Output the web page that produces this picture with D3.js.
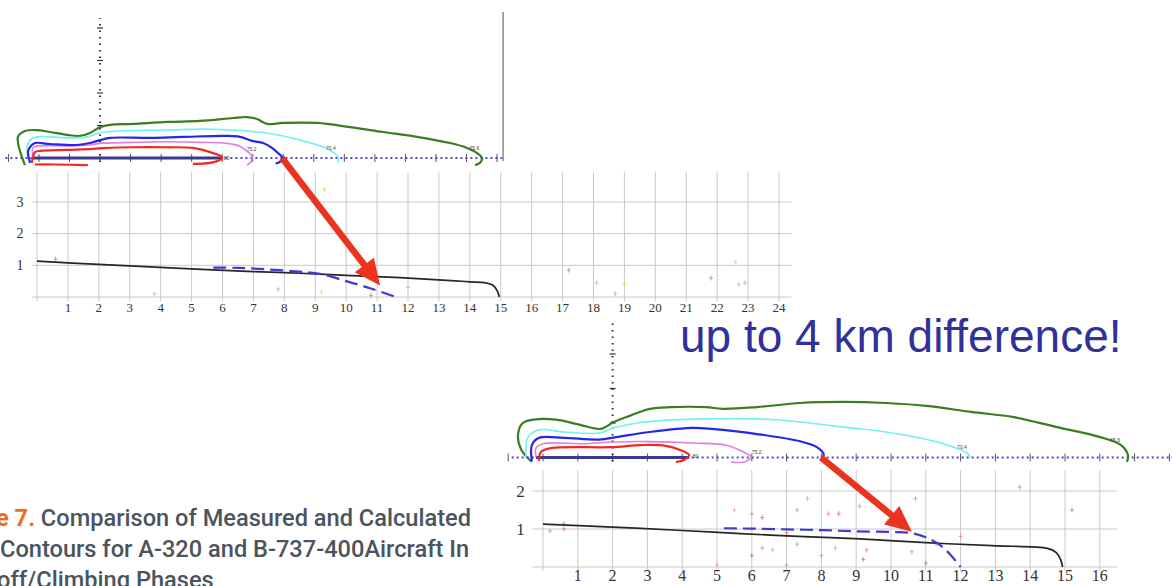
<!DOCTYPE html>
<html><head><meta charset="utf-8">
<script src="https://cdn.jsdelivr.net/npm/d3@7"></script>
<style>body{margin:0;background:#fff}svg{display:block}.serif{font-family:'Liberation Serif','DejaVu Serif',serif}</style>
</head><body><svg id="c" width="1172" height="586"></svg>
<script>
// ---------------- DATA ----------------
// Chart A (upper-left, A-320): ground distance (km) vs altitude (km)
const kmTicksA = d3.range(1, 25);
const altTicksA = [1, 2, 3];
const calcA = [[0,1.13],[1,1.08],[2,1.03],[3,0.98],[5,0.89],[7,0.80],[8.5,0.75],[10,0.68],[11.75,0.61],[13.4,0.52],[14,0.48],[14.5,0.45],[14.75,0.37],[14.9,0.17],[14.95,0]];
const measA = [[5.7,0.93],[6.5,0.92],[7.5,0.87],[8.5,0.80],[9.2,0.72],[10,0.50],[10.8,0.27],[11.6,0]];
const pointsA = [[0.6,1.2],[3.8,0.1],[7.8,0.25],[9.2,0.15],[10.8,0.05],[12.0,0.3],[9.8,2.0],[9.3,3.4],[17.2,0.85],[18.1,0.45],[18.7,0.1],[19.0,0.4],[21.8,0.6],[22.7,0.4],[22.9,0.45],[22.6,1.1]];

// Chart B (lower-right, B-737-400)
const kmTicksB = d3.range(1, 17);
const altTicksB = [1, 2];
const calcB = [[0,1.13],[2,1.05],[4,0.96],[5.66,0.88],[7.5,0.80],[9.1,0.74],[11,0.64],[12.9,0.56],[14.5,0.49],[14.75,0.38],[14.88,0.18],[14.93,0]];
const measB = [[5.2,1.02],[6,1.01],[7,0.99],[8,0.97],[9,0.94],[10,0.92],[10.6,0.89],[11,0.78],[11.4,0.58],[11.7,0.33],[12,0]];
const pointsB = [[0.2,0.95],[0.6,1.0],[0.6,1.15],[5.5,1.5],[6.0,1.4],[6.3,1.3],[7.3,1.5],[7.6,1.8],[8.2,1.4],[8.5,1.4],[9.1,1.6],[9.9,1.2],[10.7,1.8],[7.0,0.9],[7.3,0.6],[6.6,0.45],[6.3,0.5],[6.0,0.3],[8.0,0.3],[8.4,0.5],[9.3,0.45],[9.2,0.2],[10.6,0.4],[11.3,0.6],[12.0,0.8],[11.0,0.1],[7.0,0.05],[5.0,0.05],[13.7,2.1],[15.2,1.5]];

// Noise contours, panel A (km along track, km lateral)
const contA_green = [[-0.46,-0.22],[-0.69,0.65],[-0.46,0.83],[-0.07,0.86],[0.36,0.80],[0.92,0.71],[1.34,0.68],[1.67,0.77],[2.0,0.95],[2.33,1.02],[3.08,1.05],[4.19,1.11],[5.27,1.14],[6.35,1.23],[6.81,1.26],[7.14,1.20],[7.47,1.05],[7.99,1.08],[9.11,1.08],[10.19,0.95],[11.27,0.80],[12.38,0.65],[13.46,0.46],[14.02,0.31],[14.35,0.15],[14.51,0],[14.44,-0.15],[14.28,-0.22]];
const contA_cyan = [[-0.36,0.03],[-0.39,0.34],[-0.29,0.55],[-0.07,0.65],[0.92,0.62],[1.57,0.65],[2.0,0.77],[2.55,0.83],[4.19,0.86],[5.27,0.89],[6.35,0.86],[7.14,0.80],[7.47,0.77],[8.55,0.55],[9.30,0.34],[9.63,0.18],[9.79,0.03],[9.79,-0.15]];
const contA_blue = [[-0.29,-0.15],[-0.36,0.18],[-0.29,0.34],[-0.13,0.46],[0.36,0.43],[1.24,0.40],[1.67,0.46],[2.0,0.55],[2.33,0.62],[3.64,0.62],[4.72,0.65],[6.16,0.68],[6.58,0.65],[7.01,0.52],[7.34,0.46],[7.63,0.31],[7.83,0.15],[7.96,0.03],[7.89,-0.12],[7.75,-0.17]];
const contA_violet = [[-0.2,0.03],[-0.2,0.31],[-0.03,0.37],[0.92,0.37],[1.67,0.40],[2.0,0.45],[3.08,0.48],[4.19,0.50],[5.27,0.48],[6.16,0.45],[6.58,0.36],[6.85,0.18],[6.98,0.03],[6.94,-0.12],[6.81,-0.22]];
const contA_red = [[-0.23,-0.15],[-0.2,0.03],[-0.13,0.18],[0.03,0.22],[0.92,0.25],[1.77,0.28],[2.23,0.31],[3.08,0.33],[4.19,0.33],[5.04,0.31],[5.60,0.18],[5.99,0.03],[5.93,-0.06],[5.60,-0.15],[5.04,-0.18]];
const contA_redLow = [[-0.13,-0.2],[0.5,-0.2],[1.6,-0.22]];
const runwayA = [-0.2, 6.0];

// Noise contours, panel B
const contB_green = [[-0.32,-0.13],[-0.62,0.22],[-0.72,0.6],[-0.6,0.98],[-0.26,1.1],[0.37,1.1],[1.09,0.94],[1.67,0.83],[2.04,1.03],[2.47,1.20],[3.07,1.41],[3.68,1.46],[4.68,1.46],[5.17,1.41],[6.15,1.46],[7.39,1.58],[8.62,1.61],[9.86,1.58],[11.09,1.49],[12.30,1.32],[13.53,1.17],[14.77,0.88],[16.01,0.59],[16.61,0.36],[16.81,0.07],[16.78,-0.13]];
const contB_cyan = [[-0.49,0.01],[-0.43,0.59],[-0.11,0.80],[0.60,0.74],[1.61,0.71],[2.04,0.86],[2.70,1.0],[3.68,1.09],[4.91,1.12],[6.15,1.12],[7.39,1.03],[8.62,0.88],[9.86,0.74],[11.09,0.51],[11.81,0.30],[12.18,0.13],[12.30,-0.01]];
const contB_blue = [[-0.32,-0.10],[-0.32,0.36],[-0.11,0.57],[0.60,0.57],[1.61,0.52],[2.10,0.59],[3.07,0.74],[4.31,0.86],[4.91,0.82],[6.15,0.68],[7.39,0.47],[7.87,0.30],[8.07,0.07],[7.99,-0.01]];
const contB_violet = [[-0.20,0.01],[-0.20,0.28],[0,0.40],[1.24,0.40],[2.04,0.45],[3.07,0.46],[4.31,0.42],[5.29,0.35],[5.78,0.15],[5.98,0.01],[5.78,-0.13],[5.40,-0.13]];
const contB_red = [[-0.11,-0.10],[-0.11,0],[-0.06,0.16],[0.23,0.27],[1.95,0.30],[2.82,0.36],[3.45,0.35],[3.94,0.22],[4.20,0.07],[4.05,-0.07],[3.82,-0.13]];
const runwayB = [-0.2, 4.2];

const contourColors = {green:"#3a7d22", cyan:"#6ff2f0", blue:"#2626e6", violet:"#e27ee2", red:"#ee2a22"};
const levelLabelsA = [["80",6.05,-0.05],["75.2",6.8,0.22],["70.4",9.4,0.25],["65.6",14.1,0.25]];
const levelLabelsB = [["80",4.3,0],["75.2",6.0,0.1],["70.4",11.9,0.25],["65.6",16.3,0.45]];

const headline = "up to 4 km difference!";
const captionLines = [["e 7.", " Comparison of Measured and Calculated"], ["", "Contours for A-320 and B-737-400Aircraft In"], ["", "off/Climbing Phases"]];

// ---------------- SCALES ----------------
const svg = d3.select("#c");
svg.append("rect").attr("width",1172).attr("height",586).attr("fill","#fff");

const xA = d3.scaleLinear().domain([0,24]).range([37,779]);
const yA = d3.scaleLinear().domain([0,3]).range([297,202]);
const xAc = d3.scaleLinear().domain([0,15]).range([39,497]);
const yAc = d3.scaleLinear().domain([0,4]).range([158,28]);

const xB = d3.scaleLinear().domain([0,16]).range([543,1099.8]);
const yB = d3.scaleLinear().domain([0,2]).range([567,491]);
const xBc = xB;
const yBc = d3.scaleLinear().domain([0,4]).range([457.5,319.5]);

const smooth = d3.curveCatmullRom.alpha(0.5);

// ---------------- GRID CHARTS ----------------
function gridChart(x, y, kmTicks, altTicks, xMin, xMax, yTop, fs, yfs, labelY) {
  const g = svg.append("g");
  const kms = d3.range(0, kmTicks[kmTicks.length-1]+1);
  g.selectAll(".vg").data(kms).join("line")
    .attr("x1", d=>x(d)).attr("x2", d=>x(d))
    .attr("y1", y(yTop)).attr("y2", y(0)+4)
    .attr("stroke","#c9c9c9").attr("stroke-width",1);
  g.selectAll(".hg").data([0].concat(altTicks)).join("line")
    .attr("x1", x(xMin)).attr("x2", x(xMax))
    .attr("y1", d=>y(d)).attr("y2", d=>y(d))
    .attr("stroke","#c9c9c9").attr("stroke-width",1);
  g.selectAll(".xl").data(kmTicks).join("text").attr("class","serif")
    .attr("x", d=>x(d)).attr("y", labelY)
    .attr("text-anchor","middle")
    .attr("font-size",fs).attr("fill","#333").text(d=>d);
  g.selectAll(".yl").data(altTicks).join("text").attr("class","serif")
    .attr("x", x(xMin)-12).attr("y", d=>y(d)+yfs*0.33)
    .attr("text-anchor","middle")
    .attr("font-size",yfs).attr("fill","#333").text(d=>d);
  return g;
}
gridChart(xA, yA, kmTicksA, altTicksA, -0.16, 24.4, 3.94, 13, 14, 312);
gridChart(xB, yB, kmTicksB, altTicksB, -0.3, 16.5, 2.55, 16, 17, 581);

function measPoints(pts, x, y, colors) {
  svg.append("g").selectAll("path").data(pts).join("path")
    .attr("d", d=>`M${x(d[0])-2},${y(d[1])}h4M${x(d[0])},${y(d[1])-2.5}v5`)
    .attr("stroke", (d,i)=>colors[i%colors.length]).attr("stroke-width",0.8).attr("fill","none");
}
measPoints(pointsA, xA, yA, ["#999","#bbb","#e29a9a","#d8d86a"]);
measPoints(pointsB, xB, yB, ["#e08a8a","#d87070","#aaa","#e9a0a0"]);

function seriesLines(calc, meas, x, y) {
  const line = d3.line().x(d=>x(d[0])).y(d=>y(d[1])).curve(smooth);
  svg.append("path").attr("d", line(calc)).attr("fill","none").attr("stroke","#262626").attr("stroke-width",1.7);
  svg.append("path").attr("d", line(meas)).attr("fill","none").attr("stroke","#3c3cd0").attr("stroke-width",2.2).attr("stroke-dasharray","13,6");
}
seriesLines(calcA, measA, xA, yA);
seriesLines(calcB, measB, xB, yB);

// ---------------- CONTOUR PANELS ----------------
function contourPanel(x, y, conts, runway, axisFrom, axisTo, tickFrom, tickTo, vTop, labels) {
  const g = svg.append("g");
  g.append("line").attr("x1", x(axisFrom)).attr("x2", axisTo).attr("y1", y(0)).attr("y2", y(0))
    .attr("stroke","#4848dc").attr("stroke-width",2).attr("stroke-dasharray","2,3");
  g.selectAll(".t").data(d3.range(tickFrom, tickTo+1)).join("line")
    .attr("x1", d=>x(d)).attr("x2", d=>x(d)).attr("y1", y(0)-4).attr("y2", y(0)+4)
    .attr("stroke","#555").attr("stroke-width",1);
  g.append("line").attr("x1", x(2)).attr("x2", x(2)).attr("y1", y(0)+4).attr("y2", y(vTop))
    .attr("stroke","#333").attr("stroke-width",2).attr("stroke-dasharray","1.5,5");
  g.selectAll(".vt").data(d3.range(1, Math.floor(vTop)+1)).join("line")
    .attr("x1", x(2)-3).attr("x2", x(2)+3).attr("y1", d=>y(d)).attr("y2", d=>y(d))
    .attr("stroke","#333").attr("stroke-width",1.2);
  g.append("line").attr("x1", x(runway[0])).attr("x2", x(runway[1])).attr("y1", y(0)).attr("y2", y(0))
    .attr("stroke","#393990").attr("stroke-width",3);
  const line = d3.line().x(d=>x(d[0])).y(d=>y(d[1])).curve(smooth);
  conts.forEach(([pts, col]) => {
    g.append("path").attr("d", line(pts)).attr("fill","none").attr("stroke", contourColors[col])
      .attr("stroke-width", col==="violet"||col==="cyan" ? 1.6 : 2.2).attr("stroke-linejoin","round");
  });
  g.selectAll(".lv").data(labels).join("text")
    .attr("x", d=>x(d[1])).attr("y", d=>y(d[2]))
    .attr("font-family","'Liberation Sans', sans-serif").attr("font-size",5).attr("fill","#444").text(d=>d[0]);
  return g;
}
contourPanel(xAc, yAc, [[contA_green,"green"],[contA_cyan,"cyan"],[contA_violet,"violet"],[contA_blue,"blue"],[contA_red,"red"],[contA_redLow,"red"]],
  runwayA, -1.1, 503, -1, 15, 4.3, levelLabelsA);
contourPanel(xBc, yBc, [[contB_green,"green"],[contB_cyan,"cyan"],[contB_violet,"violet"],[contB_blue,"blue"],[contB_red,"red"]],
  runwayB, -0.9, 1172, -1, 18, 3.9, levelLabelsB);
svg.append("line").attr("x1", xAc(15.2)).attr("x2", xAc(15.2)).attr("y1", 12).attr("y2", yAc(0)+3)
  .attr("stroke","#8a8a8a").attr("stroke-width",1.5);

// ---------------- ARROWS ----------------
function arrow(x1, y1, x2, y2) {
  const dx = x2-x1, dy = y2-y1, L = Math.hypot(dx,dy), ux = dx/L, uy = dy/L;
  const hl = 26, hw = 12;
  const bx = x2-ux*hl, by = y2-uy*hl;
  svg.append("line").attr("x1",x1).attr("y1",y1).attr("x2",bx+ux*2).attr("y2",by+uy*2)
    .attr("stroke","#ec3320").attr("stroke-width",6.5);
  svg.append("path").attr("d",`M${x2},${y2}L${bx-uy*hw},${by+ux*hw}L${bx+uy*hw},${by-ux*hw}Z`).attr("fill","#ec3320");
}
arrow(xAc(7.96), yAc(0), xA(11.1), yA(0.36));
arrow(xBc(7.99), yBc(0), xB(10.6), yB(0.93));

// ---------------- TEXT ----------------
svg.append("text").attr("x",680).attr("y",352)
  .attr("font-family","'Liberation Sans', Arial, sans-serif").attr("font-size",46)
  .attr("fill","#30319a").text(headline);

const cap = svg.append("g").attr("font-family","Roboto, sans-serif").attr("font-size",23.6).attr("font-weight",500);
captionLines.forEach((ln,i) => {
  const t = cap.append("text").attr("x", i===0 ? -4 : (i===1 ? 0 : -3)).attr("y", 526 + i*31);
  if (ln[0]) t.append("tspan").attr("fill","#f26a22").attr("font-weight",700).text(ln[0]);
  t.append("tspan").attr("fill","#4b545c").text(ln[1]);
});
</script></body></html>
